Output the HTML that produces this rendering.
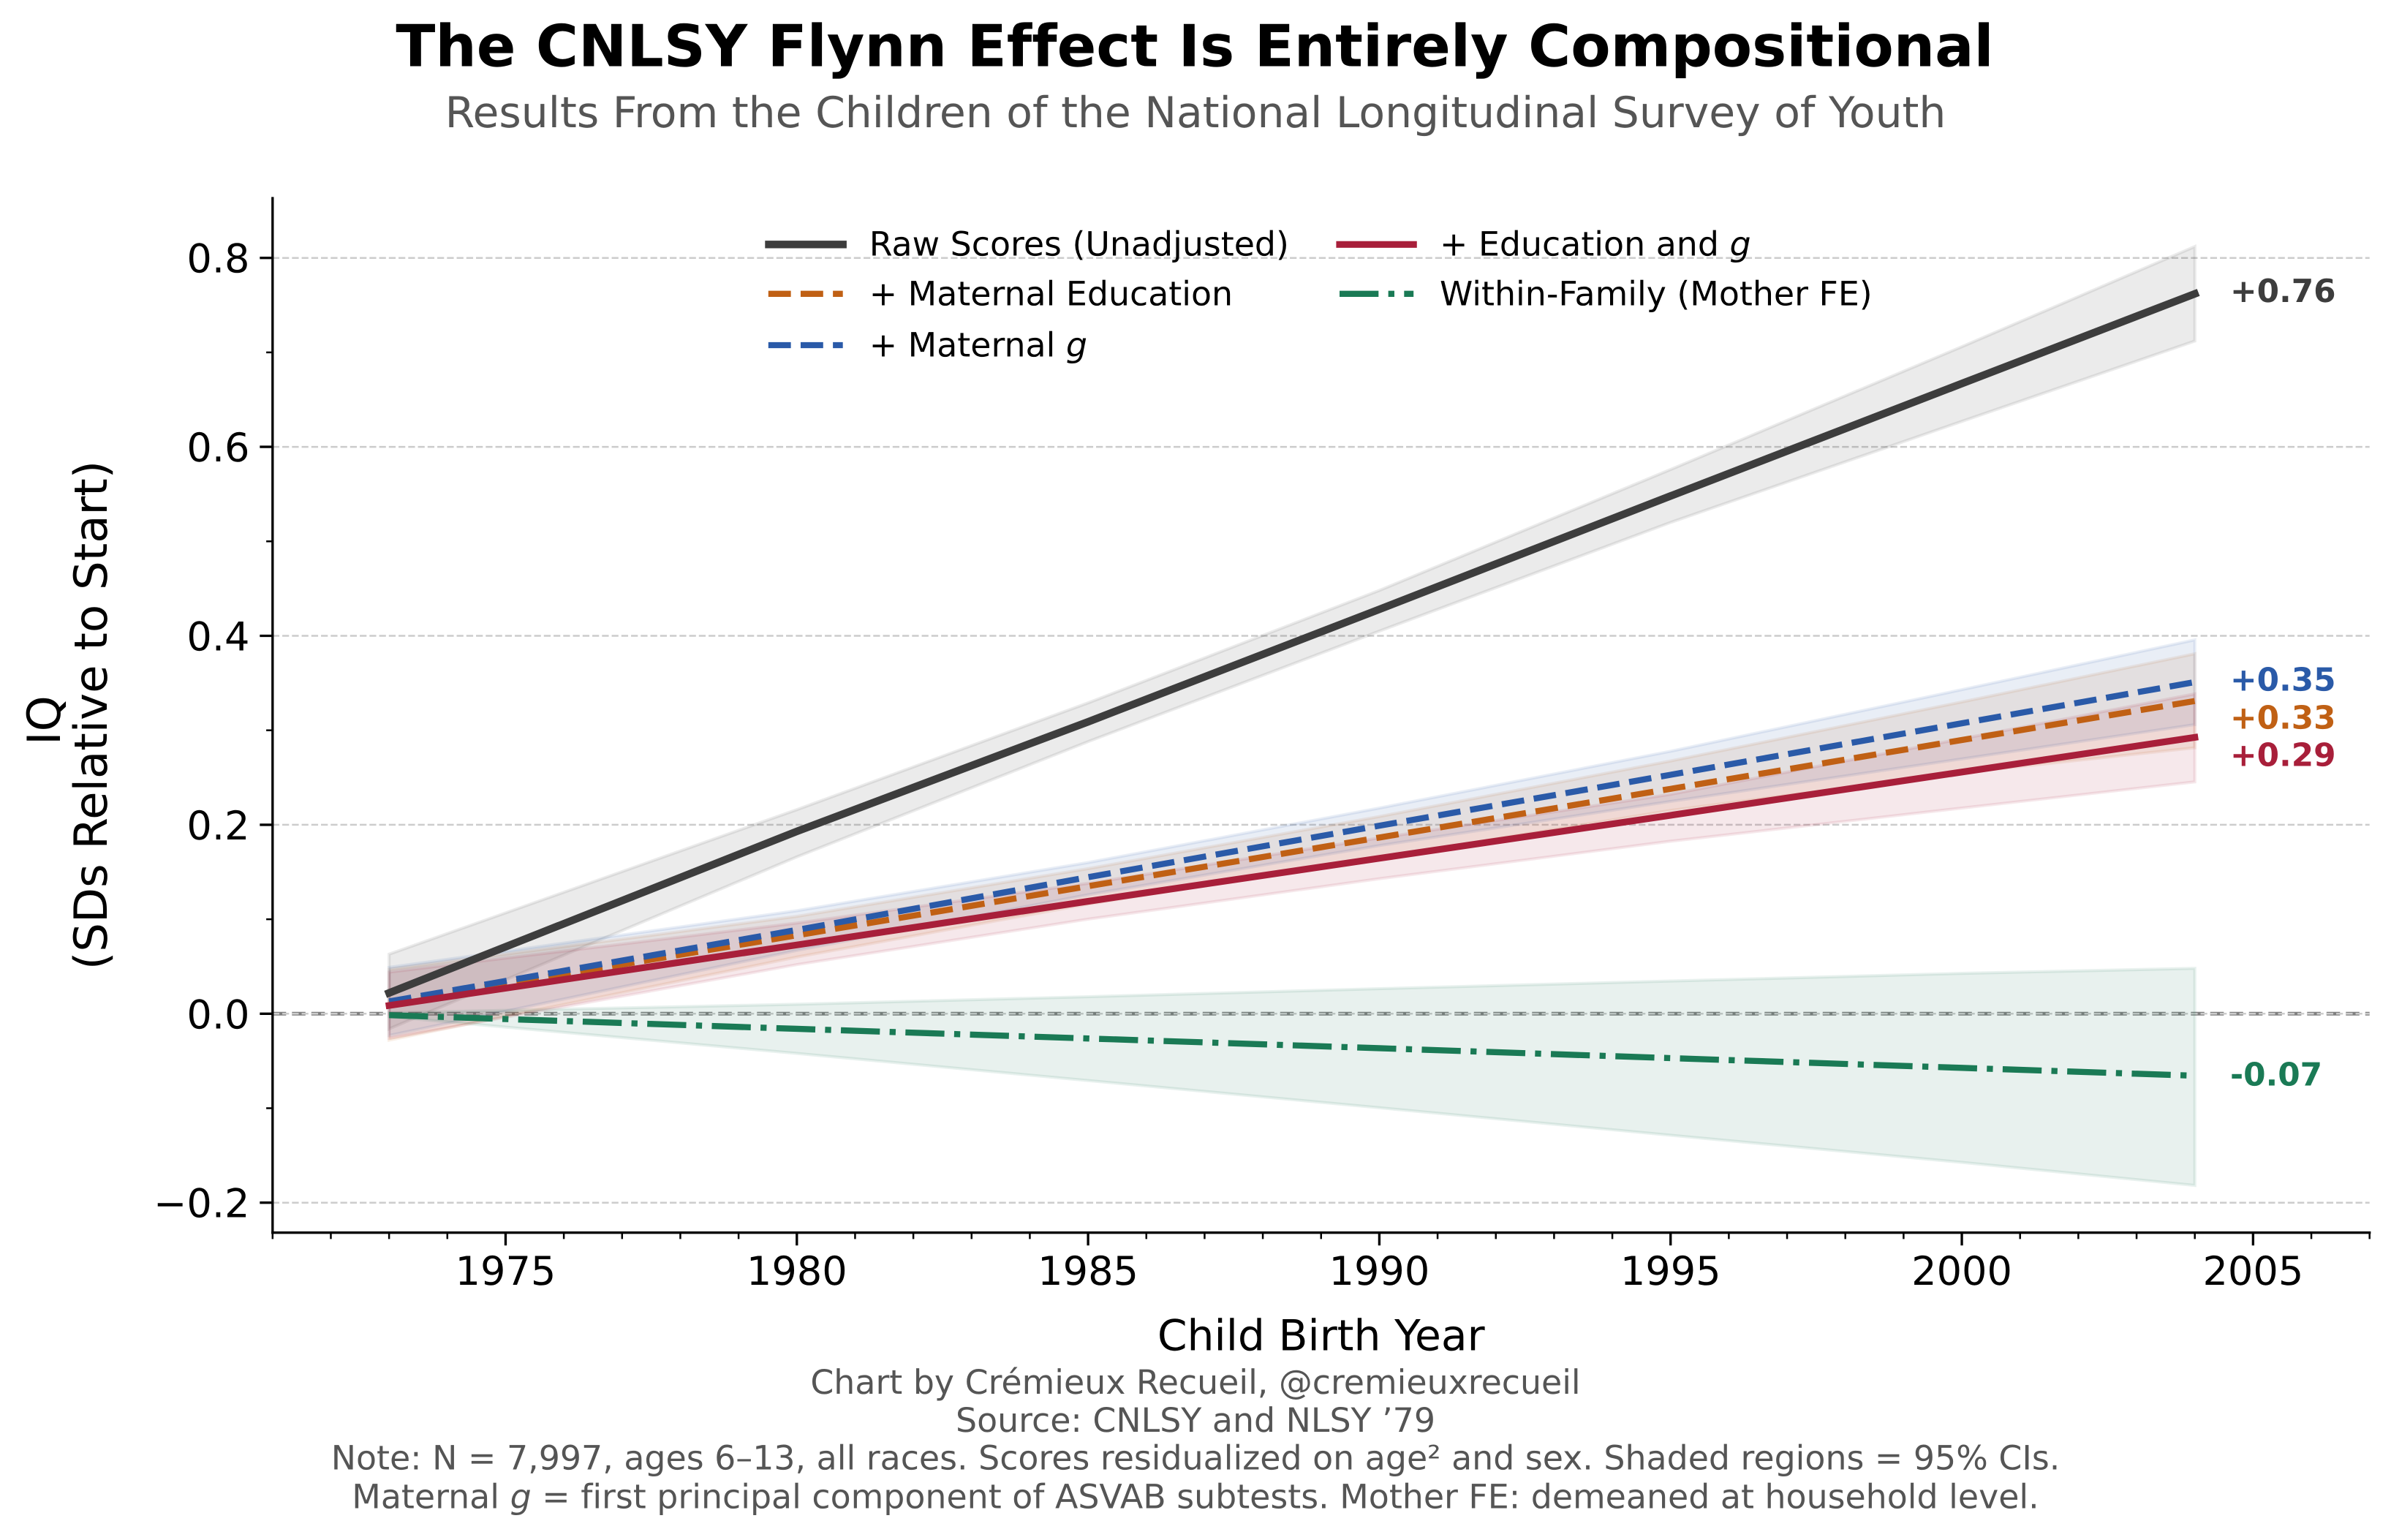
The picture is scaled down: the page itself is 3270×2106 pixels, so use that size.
<!DOCTYPE html>
<html lang="en">
<head>
<meta charset="utf-8">
<title>The CNLSY Flynn Effect Is Entirely Compositional</title>
<style>
html,body{margin:0;padding:0;background:#fff;}
svg{display:block;font-family:"DejaVu Sans","Liberation Sans",sans-serif;text-rendering:geometricPrecision;font-variant-ligatures:none;}
</style>
</head>
<body>
<svg id="chart" xmlns="http://www.w3.org/2000/svg" width="3270" height="2106" viewBox="0 0 3270 2106">
  <rect x="0" y="0" width="3270" height="2106" fill="#ffffff"/>
  <g id="grid-layer"></g>
  <g id="band-layer"></g>
  <g id="line-layer"></g>
  <g id="axis-layer"></g>
  <g id="label-layer"></g>

  <text x="1634" y="90.5" text-anchor="middle" font-size="79.17" font-weight="700" fill="#000">The CNLSY Flynn Effect Is Entirely Compositional</text>
  <text x="1635" y="174" text-anchor="middle" font-size="58.33" fill="#555555">Results From the Children of the National Longitudinal Survey of Youth</text>

  <text x="1806.7" y="1846.5" text-anchor="middle" font-size="58.33" fill="#000">Child Birth Year</text>
  <g transform="translate(0,978) rotate(-90)" font-size="62.5" fill="#000" text-anchor="middle">
    <text x="-7" y="82">IQ</text>
    <text x="0" y="146">(SDs Relative to Start)</text>
  </g>

  <g font-size="45.83" fill="#000">
    <g>
      <line x1="1051.5" x2="1152.7" y1="334.3" y2="334.3" stroke="#3d3d3d" stroke-width="10.42" stroke-linecap="square"/>
      <text x="1188.7" y="349.3">Raw Scores (Unadjusted)</text>
    </g>
    <g>
      <line x1="1050.8" x2="1152.7" y1="401.8" y2="401.8" stroke="#c06014" stroke-width="8.33" stroke-dasharray="30.83 13.33"/>
      <text x="1188.7" y="417.7">+ Maternal Education</text>
    </g>
    <g>
      <line x1="1050.8" x2="1152.7" y1="472" y2="472" stroke="#2a5aa8" stroke-width="8.33" stroke-dasharray="30.83 13.33"/>
      <text x="1188.7" y="487.3">+ Maternal <tspan font-style="italic">g</tspan></text>
    </g>
    <g>
      <line x1="1832" x2="1933.2" y1="334.3" y2="334.3" stroke="#a81f3a" stroke-width="9.17" stroke-linecap="square"/>
      <text x="1969" y="349.3">+ Education and <tspan font-style="italic">g</tspan></text>
    </g>
    <g>
      <line x1="1832" x2="1933.2" y1="401.8" y2="401.8" stroke="#1a7a55" stroke-width="8.33" stroke-dasharray="53.33 13.33 8.33 13.33"/>
      <text x="1969" y="417.7">Within-Family (Mother FE)</text>
    </g>
  </g>

  <g font-size="45.83" fill="#555555" text-anchor="middle">
    <text x="1635" y="1906">Chart by Crémieux Recueil, @cremieuxrecueil</text>
    <text x="1635" y="1958">Source: CNLSY and NLSY ’79</text>
    <text x="1635" y="2009.5">Note: N = 7,997, ages 6–13, all races. Scores residualized on age² and sex. Shaded regions = 95% CIs.</text>
    <text x="1635" y="2062.5">Maternal <tspan font-style="italic">g</tspan> = first principal component of ASVAB subtests. Mother FE: demeaned at household level.</text>
  </g>
</svg>

<script>
// ---- chart data ----
const years      = [1973, 1980, 1985, 1990, 1995, 2000, 2004];

const rawMean    = [0.022, 0.193, 0.309, 0.428, 0.548, 0.667, 0.762];
const rawUpper   = [0.063, 0.216, 0.329, 0.448, 0.576, 0.706, 0.812];
const rawLower   = [-0.016, 0.166, 0.288, 0.405, 0.520, 0.627, 0.712];

const eduMean    = [0.011, 0.083, 0.135, 0.1865, 0.238, 0.2897, 0.331];
const eduUpper   = [0.047, 0.103, 0.1535, 0.2087, 0.2675, 0.330, 0.381];
const eduLower   = [-0.028, 0.060, 0.116, 0.165, 0.2152, 0.255, 0.2815];

const gMean      = [0.013, 0.0887, 0.1445, 0.1990, 0.2529, 0.3074, 0.351];
const gUpper     = [0.049, 0.109, 0.160, 0.2177, 0.2778, 0.343, 0.3957];
const gLower     = [-0.023, 0.067, 0.126, 0.178, 0.2247, 0.2697, 0.306];

const bothMean   = [0.0087, 0.0728, 0.1190, 0.1645, 0.210, 0.2558, 0.2925];
const bothUpper  = [0.044, 0.096, 0.138, 0.186, 0.2322, 0.291, 0.3385];
const bothLower  = [-0.026, 0.052, 0.1001, 0.1429, 0.1826, 0.2177, 0.2454];

const feMean     = [-0.0015, -0.016, -0.0262, -0.0365, -0.047, -0.0573, -0.0656];
const feUpper    = [0.001, 0.010, 0.018, 0.0265, 0.0346, 0.0427, 0.048];
const feLower    = [-0.003, -0.042, -0.0707, -0.0995, -0.1286, -0.1573, -0.1817];

const endLabels  = ['+0.76', '+0.33', '+0.35', '+0.29', '-0.07'];

const xTickYears = [1975, 1980, 1985, 1990, 1995, 2000, 2005];
const xMinorYears = [1971,1972,1973,1974,1976,1977,1978,1979,1981,1982,1983,1984,1986,1987,1988,1989,1991,1992,1993,1994,1996,1997,1998,1999,2001,2002,2003,2004,2006,2007];
const yTickValues = [-0.2, 0, 0.2, 0.4, 0.6, 0.8];
const yTickLabels = ['\u22120.2', '0.0', '0.2', '0.4', '0.6', '0.8'];
const yMinorValues = [-0.1, 0.1, 0.3, 0.5, 0.7];

// ---- axis functions ----
const SVGNS = 'http://www.w3.org/2000/svg';
const axisLeft = 372.8, axisRight = 3240.7, axisTop = 271, axisBottom = 1685.7;
const xMin = 1971, xMax = 2007;
function xScale(year) { return axisLeft + (year - xMin) * (axisRight - axisLeft) / (xMax - xMin); }
function yScale(v) { return 1386.3 - v * 1292; }
function svgEl(tag) { return document.createElementNS(SVGNS, tag); }
function pathPts(xs, ys) { return xs.map(function (x, i) { return xScale(x).toFixed(2) + ',' + yScale(ys[i]).toFixed(2); }); }

const gridLayer = document.getElementById('grid-layer');
const bandLayer = document.getElementById('band-layer');
const lineLayer = document.getElementById('line-layer');
const axisLayer = document.getElementById('axis-layer');
const labelLayer = document.getElementById('label-layer');

// zero reference line, then horizontal grid
(function () {
  const el = svgEl('line');
  
  
  el.setAttribute('x1', axisLeft); el.setAttribute('x2', axisRight);
  el.setAttribute('y1', yScale(0)); el.setAttribute('y2', yScale(0));
  el.setAttribute('stroke', '#808080');
  el.setAttribute('stroke-width', '5');
  el.setAttribute('stroke-dasharray', '18.5 8');
  gridLayer.appendChild(el);
})();
yTickValues.forEach(function (v) {
  const el = svgEl('line');
  
  
  el.setAttribute('x1', axisLeft); el.setAttribute('x2', axisRight);
  el.setAttribute('y1', yScale(v)); el.setAttribute('y2', yScale(v));
  el.setAttribute('stroke', '#cccccc');
  el.setAttribute('stroke-width', '2.5');
  el.setAttribute('stroke-dasharray', '9.25 4');
  gridLayer.appendChild(el);
});

// bands
function addBand(name, upper, lower, color) {
  const el = svgEl('polygon');
  
  
  const pts = pathPts(years, upper).concat(pathPts(years, lower).reverse());
  el.setAttribute('points', pts.join(' '));
  el.setAttribute('fill', color);
  el.setAttribute('fill-opacity', '0.1');
  el.setAttribute('stroke', color);
  el.setAttribute('stroke-opacity', '0.1');
  el.setAttribute('stroke-width', '4.17');
  bandLayer.appendChild(el);
}
addBand('band-raw-scores', rawUpper, rawLower, '#3d3d3d');
addBand('band-maternal-education', eduUpper, eduLower, '#c06014');
addBand('band-maternal-g', gUpper, gLower, '#2a5aa8');
addBand('band-education-and-g', bothUpper, bothLower, '#a81f3a');
addBand('band-within-family', feUpper, feLower, '#1a7a55');

// lines
function addLine(name, values, color, width, dash, cap) {
  const el = svgEl('polyline');
  
  
  el.setAttribute('points', pathPts(years, values).join(' '));
  el.setAttribute('fill', 'none');
  el.setAttribute('stroke', color);
  el.setAttribute('stroke-width', width);
  el.setAttribute('stroke-linejoin', 'round');
  el.setAttribute('stroke-linecap', cap);
  if (dash) el.setAttribute('stroke-dasharray', dash);
  lineLayer.appendChild(el);
}
addLine('line-raw-scores', rawMean, '#3d3d3d', 10.42, '', 'square');
addLine('line-maternal-education', eduMean, '#c06014', 8.33, '30.83 13.33', 'butt');
addLine('line-maternal-g', gMean, '#2a5aa8', 8.33, '30.83 13.33', 'butt');
addLine('line-education-and-g', bothMean, '#a81f3a', 9.17, '', 'square');
addLine('line-within-family', feMean, '#1a7a55', 8.33, '53.33 13.33 8.33 13.33', 'butt');

// end labels
function addEndLabel(name, text, value, color, nudge) {
  const el = svgEl('text');
  
  
  el.setAttribute('x', 3050);
  el.setAttribute('y', yScale(value) + nudge);
  el.setAttribute('fill', color);
  el.setAttribute('font-size', '43.75');
  el.setAttribute('font-weight', '700');
  el.textContent = text;
  labelLayer.appendChild(el);
}
addEndLabel('end-label-raw-scores', endLabels[0], rawMean[rawMean.length - 1], '#3d3d3d', 11);
addEndLabel('end-label-maternal-education', endLabels[1], eduMean[eduMean.length - 1], '#c06014', 37.8);
addEndLabel('end-label-maternal-g', endLabels[2], gMean[gMean.length - 1], '#2a5aa8', 11.6);
addEndLabel('end-label-education-and-g', endLabels[3], bothMean[bothMean.length - 1], '#a81f3a', 39);
addEndLabel('end-label-within-family', endLabels[4], feMean[feMean.length - 1], '#1a7a55', 13.3);

// spines
function addSpine(name, x1, y1, x2, y2) {
  const el = svgEl('line');
  
  
  el.setAttribute('x1', x1); el.setAttribute('y1', y1);
  el.setAttribute('x2', x2); el.setAttribute('y2', y2);
  el.setAttribute('stroke', '#000');
  el.setAttribute('stroke-width', '3.33');
  el.setAttribute('stroke-linecap', 'square');
  axisLayer.appendChild(el);
}
addSpine('y-axis-spine', axisLeft, axisTop, axisLeft, axisBottom);
addSpine('x-axis-spine', axisLeft, axisBottom, axisRight, axisBottom);

// x ticks
xTickYears.forEach(function (yr) {
  const t = svgEl('line');
  
  
  t.setAttribute('x1', xScale(yr)); t.setAttribute('x2', xScale(yr));
  t.setAttribute('y1', axisBottom); t.setAttribute('y2', axisBottom + 17.5);
  t.setAttribute('stroke', '#000');
  t.setAttribute('stroke-width', '3.33');
  axisLayer.appendChild(t);
  const l = svgEl('text');
  
  
  l.setAttribute('x', xScale(yr));
  l.setAttribute('y', 1757);
  l.setAttribute('text-anchor', 'middle');
  l.setAttribute('font-size', '54.17');
  l.setAttribute('fill', '#000');
  l.textContent = String(yr);
  axisLayer.appendChild(l);
});
xMinorYears.forEach(function (yr) {
  const t = svgEl('line');
  
  
  t.setAttribute('x1', xScale(yr)); t.setAttribute('x2', xScale(yr));
  t.setAttribute('y1', axisBottom); t.setAttribute('y2', axisBottom + 8.7);
  t.setAttribute('stroke', '#000');
  t.setAttribute('stroke-width', '2.5');
  axisLayer.appendChild(t);
});

// y ticks
yTickValues.forEach(function (v, i) {
  const t = svgEl('line');
  
  
  t.setAttribute('x1', axisLeft - 17.5); t.setAttribute('x2', axisLeft);
  t.setAttribute('y1', yScale(v)); t.setAttribute('y2', yScale(v));
  t.setAttribute('stroke', '#000');
  t.setAttribute('stroke-width', '3.33');
  axisLayer.appendChild(t);
  const l = svgEl('text');
  
  
  l.setAttribute('x', 341.5);
  l.setAttribute('y', yScale(v) + 20);
  l.setAttribute('text-anchor', 'end');
  l.setAttribute('font-size', '54.17');
  l.setAttribute('fill', '#000');
  l.textContent = yTickLabels[i];
  axisLayer.appendChild(l);
});
yMinorValues.forEach(function (v) {
  const t = svgEl('line');
  
  
  t.setAttribute('x1', axisLeft - 8.7); t.setAttribute('x2', axisLeft);
  t.setAttribute('y1', yScale(v)); t.setAttribute('y2', yScale(v));
  t.setAttribute('stroke', '#000');
  t.setAttribute('stroke-width', '2.5');
  axisLayer.appendChild(t);
});
</script>
</body>
</html>
